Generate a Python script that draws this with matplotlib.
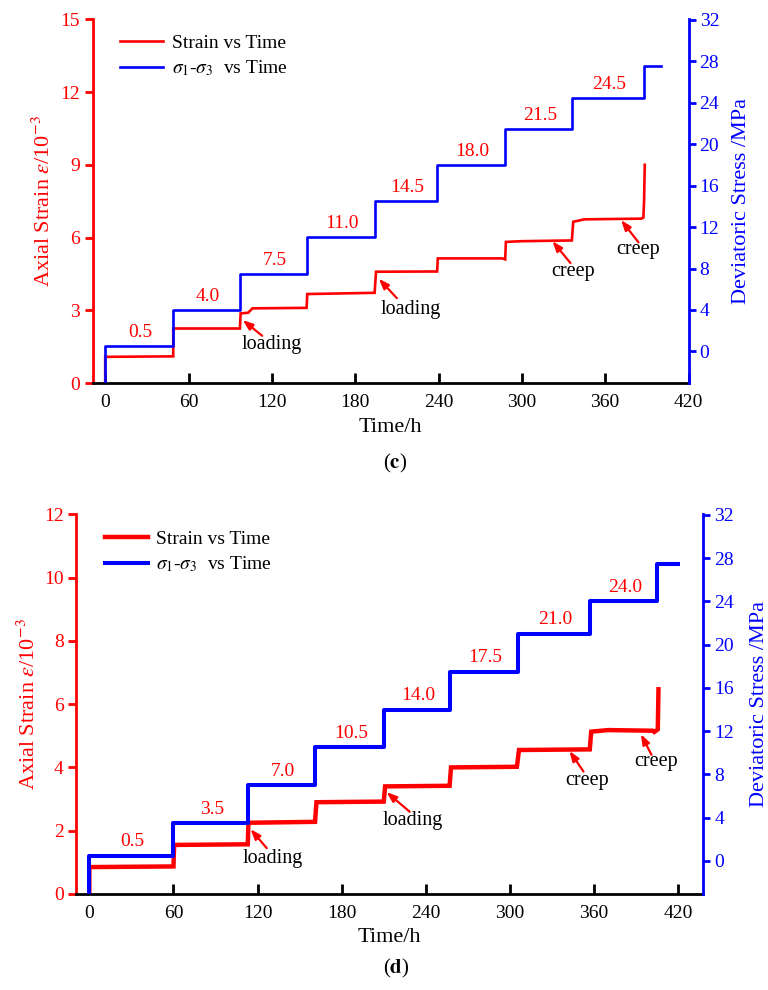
import matplotlib
matplotlib.use("Agg")
import matplotlib.pyplot as plt

matplotlib.rcParams["font.family"] = ["Liberation Serif", "DejaVu Serif"]
matplotlib.rcParams["mathtext.fontset"] = "stix"
matplotlib.rcParams["axes.linewidth"] = 2

# ---- panel (c) ----
c_stress_time = [0, 0, 49, 97, 145, 194, 239, 288, 336, 388, 400]
c_stress = [-5, 0.5, 4.0, 7.5, 11.0, 14.5, 18.0, 21.5, 24.5, 27.5, 27.5]
c_step_labels = ["0.5", "4.0", "7.5", "11.0", "14.5", "18.0", "21.5", "24.5"]

c_strain_time = [0, 0, 49, 49, 97, 97.5, 103, 106, 145, 145.5, 194, 195,
                 239, 239.5, 286, 288, 288.5, 300, 336, 337, 345, 386,
                 387.5, 388, 388.5]
c_strain = [0, 1.08, 1.1, 2.25, 2.25, 2.87, 2.9, 3.08, 3.1, 3.67, 3.72, 4.59,
            4.6, 5.14, 5.14, 5.1, 5.82, 5.85, 5.88, 6.65, 6.75, 6.78,
            6.82, 7.5, 9.0]

# annotation: (text, text pos, arrow start, arrow tip) in strain coords
c_notes = [
    ("loading", (120, 1.57), (113, 1.95), (99, 2.6)),
    ("loading", (220, 3.05), (210, 3.5), (197, 4.3)),
    ("creep", (337, 4.6), (335, 4.95), (322, 5.85)),
    ("creep", (384, 5.5), (384, 5.8), (371.5, 6.72)),
]

# ---- panel (d) ----
d_stress_time = [0, 0, 60, 113, 161, 210, 257, 306, 357, 405, 420]
d_stress = [-5, 0.5, 3.5, 7.0, 10.5, 14.0, 17.5, 21.0, 24.0, 27.5, 27.5]
d_step_labels = ["0.5", "3.5", "7.0", "10.5", "14.0", "17.5", "21.0", "24.0"]

d_strain_time = [0, 0, 60, 60.5, 113, 113.5, 161, 162, 210, 211, 257, 258,
                 305, 306.5, 357, 358, 370, 402, 403, 405.5, 406]
d_strain = [0, 0.85, 0.87, 1.55, 1.57, 2.25, 2.28, 2.9, 2.92, 3.4, 3.42, 4.0,
            4.02, 4.55, 4.57, 5.13, 5.18, 5.16, 5.12, 5.2, 6.47]

d_notes = [
    ("loading", (131, 1.13), (126.5, 1.45), (115, 2.05)),
    ("loading", (231, 2.31), (228.5, 2.6), (212, 3.22)),
    ("creep", (355, 3.6), (352.5, 3.87), (342.5, 4.52)),
    ("creep", (404.5, 4.18), (401, 4.4), (393.5, 5.05)),
]

x_ticks = [0, 60, 120, 180, 240, 300, 360, 420]
RED = "#ff0000"
BLUE = "#0000ff"


def draw_panel(fig, rect, st, s, labels, et, e, notes, ylim_l, yticks_l,
               xlim, lw, ylab_x, ylab_r_x, xlab_y, leg_anchor):
    ax = fig.add_axes(rect)
    ax2 = ax.twinx()

    ln_red, = ax.plot(et, e, color=RED, linewidth=lw[0],
                      label="Strain vs Time", solid_joinstyle="miter")
    ln_blue, = ax2.plot(st, s, color=BLUE, linewidth=lw[1], drawstyle="steps-post",
                        label=r"$\sigma_1$-$\sigma_3$  vs Time")

    # stress level labels above each step
    for i, lab in enumerate(labels):
        xm = (st[i + 1] + st[i + 2]) / 2 + 1
        ax2.text(xm, s[i + 1] + 1.3, lab, color=RED, fontsize=14,
                 ha="center", va="center")

    for txt, tpos, a0, a1 in notes:
        ax.text(tpos[0], tpos[1], txt, fontsize=14.5, ha="center", va="center",
                color="black")
        ax.annotate("", xy=a1, xytext=a0,
                    arrowprops=dict(arrowstyle="-|>,head_length=0.6,head_width=0.22",
                                    color=RED, lw=1.6, shrinkA=0, shrinkB=0))

    ax.set_xlim(*xlim)
    ax.set_ylim(*ylim_l)
    ax2.set_ylim(-3.05, 32.05)
    ax.set_xticks(x_ticks)
    ax.set_yticks(yticks_l)
    ax2.set_yticks([0, 4, 8, 12, 16, 20, 24, 28, 32])

    ax.spines["top"].set_visible(False)
    ax.spines["right"].set_visible(False)
    ax.spines["left"].set_color(RED)
    ax.spines["bottom"].set_color("black")
    for k in ["top", "left", "bottom"]:
        ax2.spines[k].set_visible(False)
    ax2.spines["right"].set_color(BLUE)

    ax.tick_params(axis="y", direction="out", length=6, width=2, colors=RED,
                   labelsize=14, pad=3)
    ax.tick_params(axis="x", direction="in", length=7, width=2, colors="black",
                   labelsize=14, pad=8)
    ax2.tick_params(axis="y", direction="out", length=5, width=2, colors=BLUE,
                    labelsize=14, pad=3)

    ax.set_ylabel(r"Axial Strain $\varepsilon$/10$^{-3}$", color=RED, fontsize=16)
    ax.yaxis.set_label_coords(ylab_x, 0.5)
    ax2.set_ylabel("Deviatoric Stress /MPa", color=BLUE, fontsize=16)
    ax2.yaxis.set_label_coords(ylab_r_x, 0.5)
    ax.set_xlabel("Time/h", fontsize=16)
    ax.xaxis.set_label_coords(0.5, xlab_y)

    ax2.legend(handles=[ln_red, ln_blue], loc="upper left", bbox_to_anchor=leg_anchor,
               frameon=False, fontsize=14, borderpad=0, borderaxespad=0,
               handlelength=2.2, handletextpad=0.45, labelspacing=0.35)
    return ax, ax2


def main():
    fig = plt.figure(figsize=(7.68, 9.9), dpi=100)

    draw_panel(fig, [0.1207, 0.6131, 0.7758, 0.3674],
               c_stress_time, c_stress, c_step_labels,
               c_strain_time, c_strain, c_notes,
               (0, 15), [0, 3, 6, 9, 12, 15], (-9, 420), (1.9, 1.9),
               -0.063, 1.073, -0.096, (0.046, 0.959))
    fig.text(395 / 768, 1 - 463 / 990, r"($\mathbf{c}$)", fontsize=15,
             ha="center", va="center")

    draw_panel(fig, [0.099, 0.0970, 0.8168, 0.3835],
               d_stress_time, d_stress, d_step_labels,
               d_strain_time, d_strain, d_notes,
               (0, 12), [0, 2, 4, 6, 8, 10, 12], (-9.5, 438), (3.2, 2.9),
               -0.057, 1.0745, -0.0895, (0.046, 0.958))
    fig.text(396 / 768, 1 - 968 / 990, r"($\mathbf{d}$)", fontsize=15,
             ha="center", va="center")

    fig.savefig("out.png", dpi=100)


if __name__ == "__main__":
    main()
